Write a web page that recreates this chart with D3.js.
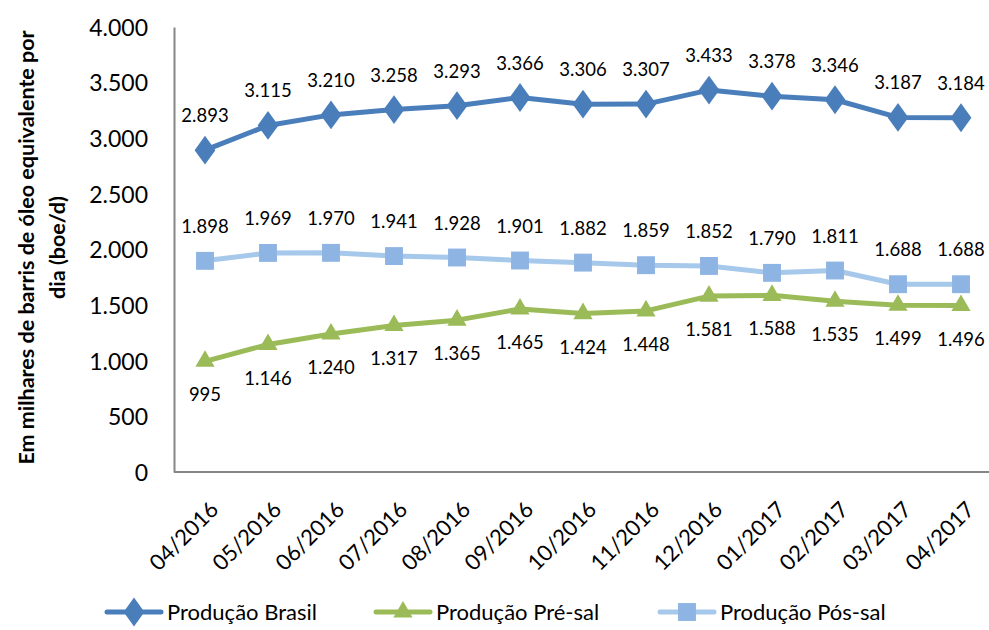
<!DOCTYPE html>
<html>
<head>
<meta charset="utf-8">
<script src="https://cdn.jsdelivr.net/npm/d3@7"></script>
<style>
  body { margin: 0; background: #fff; }
  text { font-family: Lato, sans-serif; fill: #000; }
</style>
</head>
<body>
<div id="chart"></div>
<script>
const months = ["04/2016", "05/2016", "06/2016", "07/2016", "08/2016", "09/2016", "10/2016",
                "11/2016", "12/2016", "01/2017", "02/2017", "03/2017", "04/2017"];
const brasil = [2893, 3115, 3210, 3258, 3293, 3366, 3306, 3307, 3433, 3378, 3346, 3187, 3184];
const preSal = [995, 1146, 1240, 1317, 1365, 1465, 1424, 1448, 1581, 1588, 1535, 1499, 1496];
const posSal = [1898, 1969, 1970, 1941, 1928, 1901, 1882, 1859, 1852, 1790, 1811, 1688, 1688];
const yTicks = [0, 500, 1000, 1500, 2000, 2500, 3000, 3500, 4000];

const width = 989, height = 630;
const plotLeft = 174, plotBottom = 472, plotTop = 27;

const fmt = d3.formatLocale({ decimal: ",", thousands: ".", grouping: [3] }).format(",d");

const svg = d3.select("#chart").append("svg")
    .attr("width", width).attr("height", height);

const x = d3.scalePoint().domain(months).range([205, 961]);
const y = d3.scaleLinear().domain([0, 4000]).range([plotBottom, plotTop]);

// axes
const yAxis = d3.axisLeft(y).tickValues(yTicks).tickSize(0).tickPadding(26).tickFormat(fmt);
const gY = svg.append("g").attr("transform", `translate(${plotLeft},0)`).call(yAxis);
gY.select(".domain").attr("stroke", "#868686").attr("stroke-width", 2);
gY.selectAll("text").style("font-size", "23px").attr("dy", "0.36em");

svg.append("line")
    .attr("x1", plotLeft).attr("x2", width).attr("y1", plotBottom).attr("y2", plotBottom)
    .attr("stroke", "#868686").attr("stroke-width", 2);

svg.append("g").selectAll("text").data(months).join("text")
    .attr("transform", d => `translate(${x(d) + 4},${plotBottom + 28}) rotate(-45)`)
    .attr("text-anchor", "end")
    .attr("dy", "0.7em")
    .style("font-size", "22px")
    .text(d => d);

// y title
const title = svg.append("text")
    .attr("transform", `translate(40,${(plotTop + plotBottom) / 2 - 2}) rotate(-90)`)
    .attr("text-anchor", "middle")
    .style("font-size", "21.5px").style("font-weight", "bold");
title.append("tspan").attr("x", 0).attr("dy", "-0.3em").text("Em milhares de barris de óleo equivalente por");
title.append("tspan").attr("x", 0).attr("dy", "1.45em").text("dia (boe/d)");

const series = [
  { name: "Produção Brasil", values: brasil, line: "#4a7ebb", fill: "#4a7ebb", symbol: d3.symbolDiamond, size: 240, labelDy: -28 },
  { name: "Produção Pré-sal", values: preSal, line: "#9bbb59", fill: "#9bbb59", symbol: d3.symbolTriangle, size: 160, labelDy: 40 },
  { name: "Produção Pós-sal", values: posSal, line: "#a6c8ea", fill: "#8eb4e3", symbol: d3.symbolSquare, size: 320, labelDy: -28 }
];

const line = d3.line().x((d, i) => x(months[i])).y(d => y(d));

series.forEach(s => {
  const g = svg.append("g");
  g.append("path").datum(s.values)
      .attr("d", line)
      .attr("fill", "none").attr("stroke", s.line).attr("stroke-width", 5)
      .attr("stroke-linejoin", "round");
  const sym = d3.symbol().type(s.symbol).size(s.size);
  g.selectAll("path.m").data(s.values).join("path")
      .attr("class", "m")
      .attr("d", sym)
      .attr("transform", (d, i) => s.symbol === d3.symbolDiamond
          ? `translate(${x(months[i])},${y(d)}) scale(1.25,1)`
          : `translate(${x(months[i])},${y(d)})`)
      .attr("fill", s.fill);
  g.selectAll("text").data(s.values).join("text")
      .attr("x", (d, i) => x(months[i]))
      .attr("y", d => y(d) + s.labelDy)
      .attr("text-anchor", "middle")
      .style("font-size", "18.5px")
      .text(d => fmt(d));
});

// legend
const legendX = [107, 376, 660];
const ly = 612;
series.forEach((s, i) => {
  const g = svg.append("g").attr("transform", `translate(${legendX[i]},${ly})`);
  g.append("line").attr("x1", 0).attr("x2", 54).attr("stroke", s.line).attr("stroke-width", 5)
      .attr("stroke-linecap", "round");
  g.append("path").attr("d", d3.symbol().type(s.symbol).size(s.size)())
      .attr("transform", s.symbol === d3.symbolDiamond ? "translate(27,0) scale(1.25,1)" : "translate(27,0)")
      .attr("fill", s.fill);
  g.append("text").attr("x", 60).attr("dy", "0.36em").style("font-size", "22px").text(s.name);
});
</script>
</body>
</html>
